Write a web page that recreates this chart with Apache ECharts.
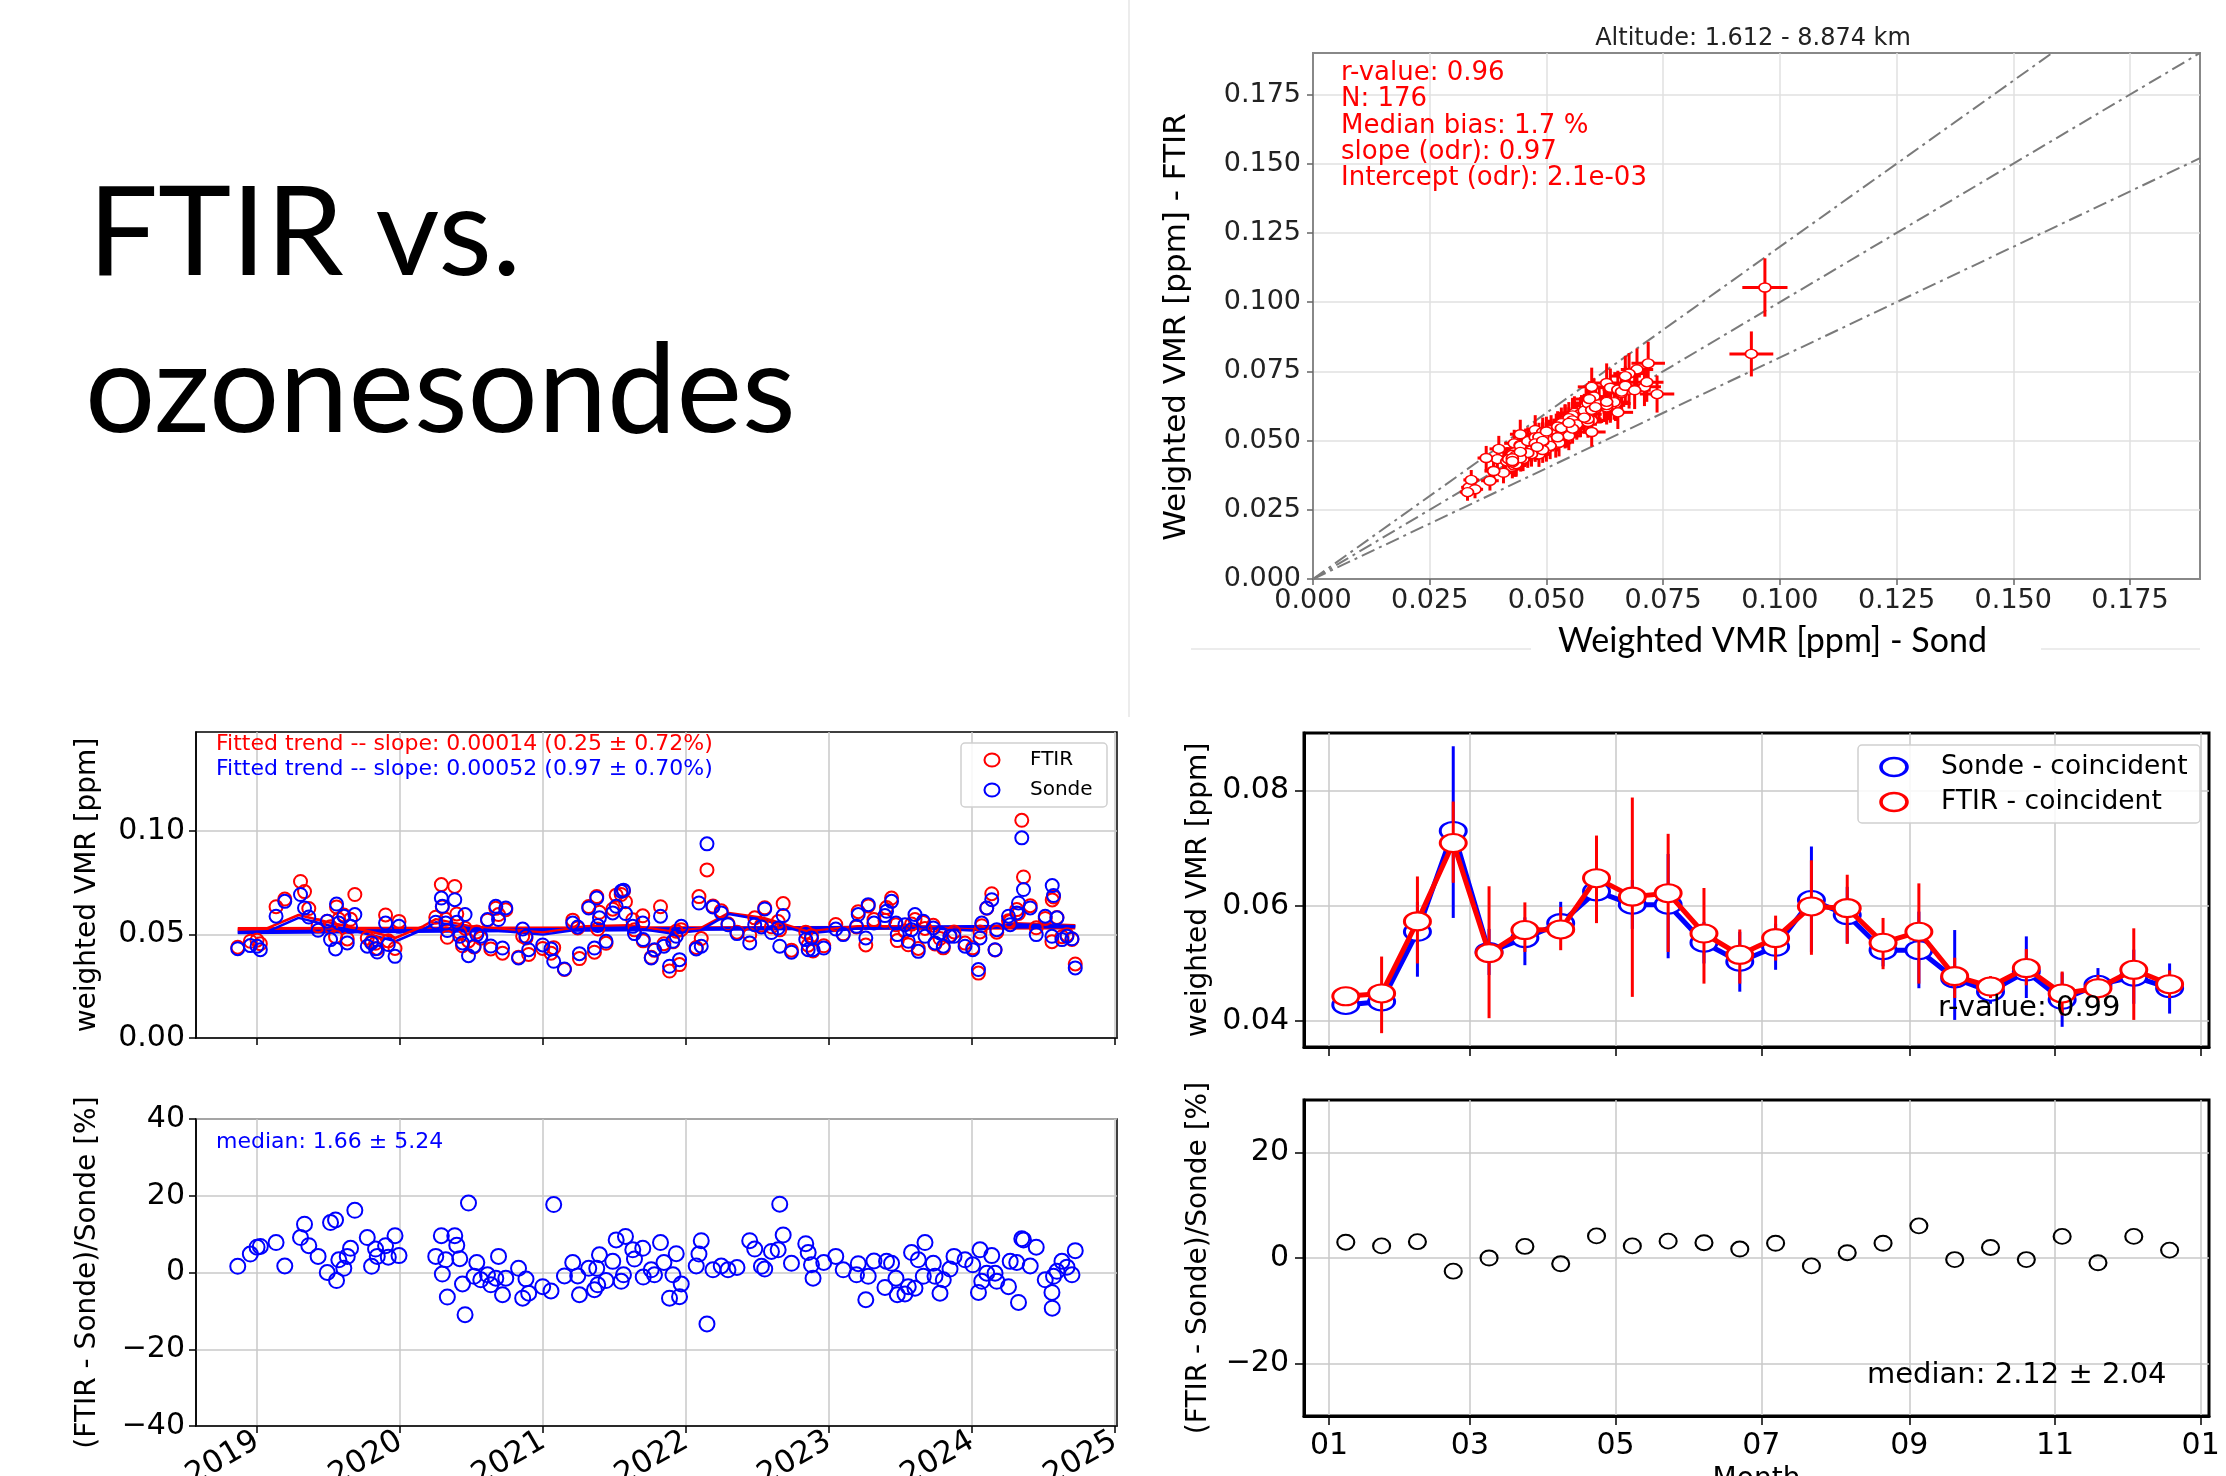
<!DOCTYPE html>
<html>
<head>
<meta charset="utf-8">
<title>FTIR vs. ozonesondes</title>
<script src="https://cdn.jsdelivr.net/npm/echarts@6/dist/echarts.min.js"></script>
<style>
  html, body { margin: 0; padding: 0; background: #fff; }
  #main { width: 2226px; height: 1476px; }
</style>
</head>
<body>
<div id="main"></div>
<script>
// FTIR vs ozonesondes - composite of 5 panels

// ---- time series (decimal year) ----
var obsYear = [2018.865, 2018.953, 2019.000, 2019.023, 2019.133, 2019.194, 2019.304, 2019.332, 2019.362, 2019.427,
  2019.491, 2019.514, 2019.549, 2019.556, 2019.572, 2019.607, 2019.631, 2019.654, 2019.684, 2019.771,
  2019.801, 2019.829, 2019.841, 2019.899, 2019.918, 2019.965, 2019.993, 2020.250, 2020.289, 2020.296,
  2020.320, 2020.331, 2020.383, 2020.397, 2020.418, 2020.437, 2020.455, 2020.479, 2020.518, 2020.537,
  2020.565, 2020.612, 2020.635, 2020.670, 2020.689, 2020.717, 2020.740, 2020.829, 2020.858, 2020.881,
  2020.900, 2020.998, 2021.056, 2021.075, 2021.150, 2021.208, 2021.243, 2021.255, 2021.320, 2021.360,
  2021.376, 2021.383, 2021.395, 2021.441, 2021.488, 2021.512, 2021.547, 2021.563, 2021.577, 2021.628,
  2021.640, 2021.698, 2021.701, 2021.757, 2021.780, 2021.822, 2021.846, 2021.885, 2021.909, 2021.932,
  2021.955, 2021.967, 2022.072, 2022.091, 2022.107, 2022.147, 2022.189, 2022.247, 2022.294, 2022.357,
  2022.446, 2022.481, 2022.528, 2022.551, 2022.598, 2022.645, 2022.656, 2022.680, 2022.738, 2022.838,
  2022.855, 2022.878, 2022.889, 2022.964, 2023.048, 2023.100, 2023.193, 2023.205, 2023.258, 2023.275,
  2023.315, 2023.392, 2023.403, 2023.438, 2023.469, 2023.478, 2023.532, 2023.555, 2023.578, 2023.602,
  2023.625, 2023.660, 2023.672, 2023.730, 2023.742, 2023.777, 2023.800, 2023.847, 2023.875, 2023.952,
  2024.006, 2024.046, 2024.057, 2024.069, 2024.104, 2024.139, 2024.162, 2024.174, 2024.256, 2024.268,
  2024.314, 2024.326, 2024.349, 2024.361, 2024.408, 2024.450, 2024.513, 2024.560, 2024.562, 2024.571,
  2024.595, 2024.630, 2024.665, 2024.700, 2024.723];

var sondeVmr = [0.0432, 0.0447, 0.0444, 0.0427, 0.0589, 0.0661, 0.0694, 0.0629, 0.0585, 0.0521,
  0.0565, 0.0476, 0.0431, 0.0648, 0.0556, 0.0589, 0.0460, 0.0540, 0.0597, 0.0444,
  0.0460, 0.0432, 0.0416, 0.0556, 0.0452, 0.0395, 0.0540, 0.0560, 0.0677, 0.0637,
  0.0556, 0.0520, 0.0669, 0.0560, 0.0492, 0.0460, 0.0597, 0.0398, 0.0444, 0.0500,
  0.0492, 0.0573, 0.0445, 0.0637, 0.0573, 0.0435, 0.0629, 0.0387, 0.0527, 0.0492,
  0.0427, 0.0450, 0.0431, 0.0371, 0.0334, 0.0556, 0.0537, 0.0408, 0.0629, 0.0435,
  0.0677, 0.0544, 0.0581, 0.0468, 0.0605, 0.0637, 0.0710, 0.0715, 0.0602, 0.0540,
  0.0505, 0.0556, 0.0476, 0.0387, 0.0427, 0.0589, 0.0444, 0.0347, 0.0468, 0.0492,
  0.0379, 0.0540, 0.0431, 0.0653, 0.0444, 0.0939, 0.0634, 0.0605, 0.0548, 0.0505,
  0.0460, 0.0548, 0.0537, 0.0624, 0.0510, 0.0532, 0.0444, 0.0592, 0.0415, 0.0476,
  0.0427, 0.0484, 0.0427, 0.0435, 0.0527, 0.0500, 0.0540, 0.0597, 0.0484, 0.0645,
  0.0556, 0.0592, 0.0613, 0.0661, 0.0556, 0.0500, 0.0548, 0.0468, 0.0524, 0.0597,
  0.0419, 0.0565, 0.0492, 0.0532, 0.0460, 0.0508, 0.0444, 0.0492, 0.0492, 0.0444,
  0.0427, 0.0331, 0.0484, 0.0556, 0.0629, 0.0669, 0.0427, 0.0524, 0.0589, 0.0548,
  0.0605, 0.0653, 0.0968, 0.0718, 0.0629, 0.0500, 0.0589, 0.0492, 0.0737, 0.0689,
  0.0581, 0.0476, 0.0492, 0.0480, 0.0339];

var ftirVmr = [0.0439, 0.0468, 0.0473, 0.0456, 0.0635, 0.0672, 0.0757, 0.0708, 0.0626, 0.0543,
  0.0565, 0.0538, 0.0490, 0.0634, 0.0574, 0.0595, 0.0479, 0.0574, 0.0694, 0.0484,
  0.0467, 0.0458, 0.0433, 0.0595, 0.0470, 0.0433, 0.0564, 0.0584, 0.0742, 0.0634,
  0.0574, 0.0487, 0.0733, 0.0600, 0.0510, 0.0446, 0.0531, 0.0470, 0.0440, 0.0513,
  0.0483, 0.0570, 0.0431, 0.0627, 0.0597, 0.0410, 0.0620, 0.0391, 0.0492, 0.0484,
  0.0404, 0.0433, 0.0410, 0.0437, 0.0331, 0.0570, 0.0532, 0.0384, 0.0636, 0.0415,
  0.0684, 0.0527, 0.0608, 0.0458, 0.0623, 0.0691, 0.0694, 0.0711, 0.0659, 0.0572,
  0.0523, 0.0591, 0.0470, 0.0390, 0.0424, 0.0635, 0.0456, 0.0324, 0.0465, 0.0516,
  0.0355, 0.0524, 0.0438, 0.0684, 0.0481, 0.0813, 0.0638, 0.0615, 0.0552, 0.0512,
  0.0498, 0.0581, 0.0546, 0.0630, 0.0538, 0.0563, 0.0523, 0.0650, 0.0425, 0.0512,
  0.0449, 0.0494, 0.0421, 0.0446, 0.0549, 0.0504, 0.0537, 0.0611, 0.0450, 0.0639,
  0.0573, 0.0569, 0.0631, 0.0677, 0.0548, 0.0471, 0.0517, 0.0451, 0.0551, 0.0573,
  0.0433, 0.0559, 0.0530, 0.0545, 0.0455, 0.0481, 0.0436, 0.0496, 0.0513, 0.0459,
  0.0436, 0.0314, 0.0513, 0.0543, 0.0628, 0.0698, 0.0426, 0.0512, 0.0567, 0.0564,
  0.0621, 0.0602, 0.1053, 0.0779, 0.0640, 0.0533, 0.0578, 0.0466, 0.0668, 0.0682,
  0.0583, 0.0490, 0.0499, 0.0477, 0.0358];

var relDiff = [1.6, 4.8, 6.6, 6.8, 7.8, 1.7, 9.1, 12.6, 7.0, 4.2,
  0.0, 13.0, 13.7, -2.1, 3.3, 1.1, 4.2, 6.3, 16.2, 9.1,
  1.6, 6.1, 4.2, 7.0, 4.0, 9.6, 4.4, 4.2, 9.6, -0.4,
  3.3, -6.4, 9.6, 7.1, 3.6, -3.0, -11.0, 18.1, -1.0, 2.6,
  -1.9, -0.6, -3.2, -1.5, 4.2, -5.8, -1.5, 1.1, -6.7, -1.7,
  -5.4, -3.7, -4.8, 17.7, -0.9, 2.6, -0.9, -5.8, 1.1, -4.5,
  1.1, -3.2, 4.6, -2.1, 2.9, 8.5, -2.3, -0.6, 9.4, 5.9,
  3.5, 6.3, -1.2, 0.7, -0.6, 7.8, 2.6, -6.7, -0.6, 4.9,
  -6.3, -3.0, 1.7, 4.8, 8.3, -13.4, 0.7, 1.7, 0.7, 1.3,
  8.3, 6.1, 1.6, 0.9, 5.5, 5.9, 17.8, 9.8, 2.4, 7.5,
  5.2, 2.0, -1.5, 2.6, 4.2, 0.7, -0.6, 2.3, -7.1, -1.0,
  3.0, -3.9, 2.9, 2.4, -1.5, -5.8, -5.6, -3.7, 5.2, -4.1,
  3.3, -1.0, 7.8, 2.4, -1.0, -5.4, -1.9, 0.9, 4.2, 3.3,
  2.0, -5.2, 5.9, -2.3, -0.2, 4.4, -0.2, -2.3, -3.7, 2.9,
  2.6, -7.8, 8.8, 8.5, 1.7, 6.6, -1.9, -5.2, -9.3, -1.0,
  0.3, 2.9, 1.4, -0.6, 5.7];

// linear trends and fitted (seasonal) curves
var trendYears = [2018.865, 2024.723];
var ftirTrendLine = [0.0527, 0.0535];
var sondeTrendLine = [0.0511, 0.0541];
var fitYears = [2018.865, 2019.06, 2019.29, 2019.50, 2019.70, 2019.97, 2020.16, 2020.25, 2020.50, 2020.75, 2021.00, 2021.30,
  2021.60, 2021.90, 2022.10, 2022.30, 2022.55, 2022.85, 2023.20, 2023.60, 2024.00, 2024.30, 2024.723];
var sondeFit = [0.0511, 0.0511, 0.0581, 0.0545, 0.0515, 0.0468, 0.0524, 0.0560, 0.0530, 0.0515, 0.0500, 0.0530,
  0.0535, 0.0505, 0.0520, 0.0600, 0.0570, 0.0505, 0.0530, 0.0535, 0.0520, 0.0550, 0.0540];
var ftirFit = [0.0525, 0.0528, 0.0595, 0.0560, 0.0530, 0.0485, 0.0540, 0.0575, 0.0540, 0.0525, 0.0510, 0.0540,
  0.0545, 0.0515, 0.0530, 0.0605, 0.0580, 0.0515, 0.0540, 0.0540, 0.0525, 0.0555, 0.0545];
var yearTicks = [2019, 2020, 2021, 2022, 2023, 2024, 2025];

// scatter: relative uncertainties and reference slopes
var sondeRelErr = 0.05;
var ftirRelErr = 0.10;
var refSlopes = [1.2, 1.0, 0.8];
var scatterTicks = [0, 0.025, 0.05, 0.075, 0.1, 0.125, 0.15, 0.175];

// ---- seasonal cycle (day of year, 15-day bins) ----
var monthDay = [7, 22, 37, 52, 67, 82, 97, 112, 127, 142, 157, 172, 187, 202, 217, 232, 247, 262, 277, 292, 307, 322, 337, 352];
var sondeMonthly = [0.0428, 0.0434, 0.0555, 0.0730, 0.0520, 0.0544, 0.0570, 0.0625, 0.0602, 0.0602, 0.0536, 0.0503,
  0.0529, 0.0610, 0.0584, 0.0523, 0.0523, 0.0474, 0.0451, 0.0486, 0.0437, 0.0463, 0.0477, 0.0457];
var ftirMonthly = [0.0443, 0.0448, 0.0573, 0.0709, 0.0518, 0.0558, 0.0559, 0.0648, 0.0616, 0.0622, 0.0552, 0.0515,
  0.0544, 0.0599, 0.0596, 0.0536, 0.0555, 0.0478, 0.0460, 0.0492, 0.0448, 0.0457, 0.0489, 0.0464];
var sondeLow = [0.0418, 0.0420, 0.0477, 0.0579, 0.0480, 0.0497, 0.0545, 0.0573, 0.0560, 0.0509, 0.0500, 0.0451,
  0.0489, 0.0520, 0.0535, 0.0495, 0.0457, 0.0402, 0.0430, 0.0440, 0.0390, 0.0440, 0.0430, 0.0413];
var sondeHigh = [0.0438, 0.0448, 0.0607, 0.0877, 0.0560, 0.0580, 0.0607, 0.0675, 0.0645, 0.0690, 0.0572, 0.0555,
  0.0569, 0.0703, 0.0633, 0.0551, 0.0590, 0.0558, 0.0472, 0.0547, 0.0484, 0.0492, 0.0524, 0.0500];
var ftirLow = [0.0430, 0.0379, 0.0500, 0.0640, 0.0405, 0.0520, 0.0523, 0.0570, 0.0442, 0.0520, 0.0465, 0.0465,
  0.0505, 0.0515, 0.0534, 0.0490, 0.0465, 0.0440, 0.0440, 0.0462, 0.0410, 0.0432, 0.0402, 0.0440];
var ftirHigh = [0.0455, 0.0512, 0.0651, 0.0781, 0.0634, 0.0606, 0.0598, 0.0722, 0.0788, 0.0725, 0.0631, 0.0559,
  0.0583, 0.0679, 0.0654, 0.0579, 0.0639, 0.0510, 0.0478, 0.0525, 0.0486, 0.0480, 0.0561, 0.0488];
var monthlyDiff = [3.0, 2.3, 3.1, -2.5, 0.0, 2.2, -1.1, 4.2, 2.3, 3.2, 2.9, 1.7,
  2.8, -1.5, 1.0, 2.8, 6.1, -0.3, 2.0, -0.3, 4.1, -0.9, 4.1, 1.5];
var monthTickDays = [0, 59, 120, 181, 243, 304, 365];
var monthTickLabels = ['01', '03', '05', '07', '09', '11', '01'];

var FONT = 'DejaVu Sans';
var RED = '#ff0000', BLUE = '#0000ff';

function merge(a, b) {
  for (var k in b) {
    if (b[k] && typeof b[k] === 'object' && !Array.isArray(b[k]) && a[k] && typeof a[k] === 'object') merge(a[k], b[k]);
    else a[k] = b[k];
  }
  return a;
}
function minus(v) { return String(v).replace('-', '\u2212'); }

function mplAxis(gridIndex, lw, extra) {
  return merge({
    type: 'value', gridIndex: gridIndex,
    axisLine: { show: true, onZero: false, lineStyle: { color: '#000', width: lw } },
    axisTick: { show: true, inside: false, length: 7, lineStyle: { color: '#000', width: 1.5 } },
    axisLabel: { color: '#000', fontFamily: FONT, fontSize: 30, margin: 11 },
    splitLine: { show: true, lineStyle: { color: '#c8c8c8', width: 1.5 } },
    nameLocation: 'middle',
    nameTextStyle: { color: '#000', fontFamily: FONT, fontSize: 28 }
  }, extra);
}

function crossItem(params, api) {
  var x = api.value(0), y = api.value(1), ex = api.value(2), ey = api.value(3);
  var l = api.coord([x - ex, y]), r = api.coord([x + ex, y]);
  var b = api.coord([x, y - ey]), t = api.coord([x, y + ey]);
  var st = { stroke: RED, lineWidth: 3 };
  return { type: 'group', children: [
    { type: 'line', shape: { x1: l[0], y1: l[1], x2: r[0], y2: r[1] }, style: st },
    { type: 'line', shape: { x1: b[0], y1: b[1], x2: t[0], y2: t[1] }, style: st }
  ] };
}
function vErr(color) {
  return function (params, api) {
    var lo = api.coord([api.value(0), api.value(1)]);
    var hi = api.coord([api.value(0), api.value(2)]);
    return { type: 'line', shape: { x1: lo[0], y1: lo[1], x2: hi[0], y2: hi[1] }, style: { stroke: color, lineWidth: 3 } };
  };
}

function txt(x, y, text, size, color, family, align) {
  return { type: 'text', x: x, y: y, silent: true, z: 100,
    style: { text: text, fill: color || '#000', fontSize: size, fontFamily: family || FONT,
      align: align || 'left', textAlign: align || 'left', verticalAlign: 'middle', textVerticalAlign: 'middle' } };
}
function mark(cx, cy, rx, ry, color, lw) {
  return { type: 'circle', x: cx, y: cy, scaleX: rx / ry, silent: true, z: 101,
    shape: { cx: 0, cy: 0, r: ry }, style: { fill: '#fff', stroke: color, lineWidth: lw, strokeNoScale: true } };
}
function box(x, y, w, h) {
  return { type: 'rect', silent: true, z: 99, shape: { x: x, y: y, width: w, height: h, r: 4 },
    style: { fill: 'rgba(255,255,255,0.85)', stroke: '#d0d0d0', lineWidth: 1.5 } };
}
function sep(x1, y1, x2, y2) {
  return { type: 'line', silent: true, z: 0, shape: { x1: x1, y1: y1, x2: x2, y2: y2 }, style: { stroke: '#e6e6e6', lineWidth: 1.5 } };
}
function panel(left, top, width, height, color, bw) {
  return { left: left, top: top, width: width, height: height, show: true, borderColor: color, borderWidth: bw,
    containLabel: false, outerBoundsMode: 'none' };
}

var chart = echarts.init(document.getElementById('main'));

var option = {
  animation: false,
  backgroundColor: '#fff',
  grid: [
    panel(1313, 53, 887, 526, '#888', 2),
    panel(196, 732, 921, 306, '#000', 1.5),
    panel(196, 1119, 921, 307, '#000', 1.5),
    panel(1304, 733, 905, 314, '#000', 3),
    panel(1304, 1100, 905, 316, '#000', 3)
  ],
  xAxis: [
    mplAxis(0, 2, {
      min: 0, max: 0.19,
      axisLine: { lineStyle: { color: '#888' } },
      axisTick: { customValues: scatterTicks, length: 6, lineStyle: { color: '#666' } },
      axisLabel: { customValues: scatterTicks, fontSize: 27, color: '#222', margin: 8,
        formatter: function (v) { return v.toFixed(3); } },
      splitLine: { lineStyle: { color: '#e0e0e0', width: 1.5 } },
      name: 'Weighted VMR [ppm] - Sond', nameGap: 45,
      nameTextStyle: { fontFamily: 'Lato', fontSize: 34, color: '#000', padding: [0, 0, 0, 32] }
    }),
    mplAxis(1, 1.5, {
      min: 2018.573, max: 2025.015,
      axisTick: { customValues: yearTicks },
      axisLabel: { show: false, customValues: yearTicks }
    }),
    mplAxis(2, 1.5, {
      min: 2018.573, max: 2025.015,
      axisTick: { customValues: yearTicks },
      axisLabel: { customValues: yearTicks, rotate: 30, fontSize: 31, margin: 13, formatter: function (v) { return String(v); } }
    }),
    mplAxis(3, 3, {
      min: -10.5, max: 368.5,
      axisTick: { customValues: monthTickDays, length: 9 },
      axisLabel: { show: false, customValues: monthTickDays }
    }),
    mplAxis(4, 3, {
      min: -10.5, max: 368.5,
      axisTick: { customValues: monthTickDays, length: 9 },
      axisLabel: { customValues: monthTickDays, fontSize: 30, margin: 15,
        formatter: function (v) { return monthTickLabels[monthTickDays.indexOf(Math.round(v))]; } },
      name: 'Month', nameGap: 50
    })
  ],
  yAxis: [
    mplAxis(0, 2, {
      min: 0, max: 0.19,
      axisLine: { lineStyle: { color: '#888' } },
      axisTick: { customValues: scatterTicks, length: 6, lineStyle: { color: '#666' } },
      axisLabel: { customValues: scatterTicks, fontSize: 27, color: '#222', margin: 12,
        formatter: function (v) { return v.toFixed(3); } },
      splitLine: { lineStyle: { color: '#e0e0e0', width: 1.5 } },
      name: 'Weighted VMR [ppm] - FTIR', nameGap: 121, nameRotate: 90,
      nameTextStyle: { fontSize: 31, padding: [0, 22, 0, 0] }
    }),
    mplAxis(1, 1.5, {
      min: 0, max: 0.148,
      axisTick: { customValues: [0, 0.05, 0.10] },
      axisLabel: { customValues: [0, 0.05, 0.10], formatter: function (v) { return v.toFixed(2); } },
      name: 'weighted VMR [ppm]', nameGap: 94, nameRotate: 90
    }),
    mplAxis(2, 1.5, {
      min: -40, max: 40,
      axisTick: { customValues: [-40, -20, 0, 20, 40] },
      axisLabel: { customValues: [-40, -20, 0, 20, 40], formatter: minus },
      name: '(FTIR - Sonde)/Sonde [%]', nameGap: 94, nameRotate: 90
    }),
    mplAxis(3, 3, {
      min: 0.0355, max: 0.090,
      axisTick: { customValues: [0.04, 0.06, 0.08], length: 9 },
      axisLabel: { customValues: [0.04, 0.06, 0.08], fontSize: 30, margin: 15, formatter: function (v) { return v.toFixed(2); } },
      name: 'weighted VMR [ppm]', nameGap: 91, nameRotate: 90
    }),
    mplAxis(4, 3, {
      min: -30, max: 30,
      axisTick: { customValues: [-20, 0, 20], length: 9 },
      axisLabel: { customValues: [-20, 0, 20], fontSize: 30, margin: 15, formatter: minus },
      name: '(FTIR - Sonde)/Sonde [%]', nameGap: 91, nameRotate: 90
    })
  ],
  series: [],
  graphic: []
};

var S = option.series;

// scatter panel: 1:1.2, 1:1, 1:0.8 reference lines
refSlopes.forEach(function (k) {
  S.push({ type: 'line', xAxisIndex: 0, yAxisIndex: 0, silent: true, symbol: 'none', z: 1,
    data: [[0, 0], [0.19, 0.19 * k]],
    lineStyle: { color: '#7a7a7a', width: 2, type: [14, 5, 3, 5] } });
});
S.push({ type: 'custom', name: 'error', xAxisIndex: 0, yAxisIndex: 0, z: 2, clip: true,
  renderItem: crossItem, encode: { x: 0, y: 1 },
  data: sondeVmr.map(function (s, i) { return [s, ftirVmr[i], s * sondeRelErr, ftirVmr[i] * ftirRelErr]; }) });
S.push({ type: 'scatter', name: 'FTIR vs Sonde', xAxisIndex: 0, yAxisIndex: 0, z: 3,
  symbol: 'circle', symbolSize: [12, 9],
  itemStyle: { color: '#fff', borderColor: RED, borderWidth: 1.6, opacity: 1 },
  data: sondeVmr.map(function (s, i) { return [s, ftirVmr[i]]; }) });

// time series: trends, fitted curves, observations
S.push({ type: 'line', xAxisIndex: 1, yAxisIndex: 1, symbol: 'none', silent: true, z: 2,
  data: trendYears.map(function (t, i) { return [t, ftirTrendLine[i]]; }), lineStyle: { color: RED, width: 4 } });
S.push({ type: 'line', xAxisIndex: 1, yAxisIndex: 1, symbol: 'none', silent: true, z: 2,
  data: trendYears.map(function (t, i) { return [t, sondeTrendLine[i]]; }), lineStyle: { color: BLUE, width: 4 } });
S.push({ type: 'line', xAxisIndex: 1, yAxisIndex: 1, symbol: 'none', silent: true, z: 2,
  data: fitYears.map(function (t, i) { return [t, ftirFit[i]]; }), lineStyle: { color: RED, width: 2.5 } });
S.push({ type: 'line', xAxisIndex: 1, yAxisIndex: 1, symbol: 'none', silent: true, z: 2,
  data: fitYears.map(function (t, i) { return [t, sondeFit[i]]; }), lineStyle: { color: BLUE, width: 2.5 } });
S.push({ type: 'scatter', name: 'FTIR', xAxisIndex: 1, yAxisIndex: 1, z: 3, symbol: 'circle', symbolSize: 13,
  itemStyle: { color: 'rgba(255,255,255,0)', borderColor: RED, borderWidth: 2, opacity: 1 },
  data: obsYear.map(function (t, i) { return [t, ftirVmr[i]]; }) });
S.push({ type: 'scatter', name: 'Sonde', xAxisIndex: 1, yAxisIndex: 1, z: 4, symbol: 'circle', symbolSize: 13,
  itemStyle: { color: 'rgba(255,255,255,0)', borderColor: BLUE, borderWidth: 2, opacity: 1 },
  data: obsYear.map(function (t, i) { return [t, sondeVmr[i]]; }) });
S.push({ type: 'scatter', name: 'relative difference', xAxisIndex: 2, yAxisIndex: 2, z: 3, symbol: 'circle', symbolSize: 15,
  itemStyle: { color: 'rgba(255,255,255,0)', borderColor: BLUE, borderWidth: 2, opacity: 1 },
  data: obsYear.map(function (t, i) { return [t, relDiff[i]]; }) });

// seasonal cycle
S.push({ type: 'custom', xAxisIndex: 3, yAxisIndex: 3, z: 2, clip: true, renderItem: vErr(BLUE), encode: { x: 0, y: [1, 2] },
  data: monthDay.map(function (d, i) { return [d, sondeLow[i], sondeHigh[i]]; }) });
S.push({ type: 'line', name: 'Sonde - coincident', xAxisIndex: 3, yAxisIndex: 3, z: 3,
  symbol: 'circle', symbolSize: [26, 18], showAllSymbol: true,
  itemStyle: { color: '#fff', borderColor: BLUE, borderWidth: 2.5 }, lineStyle: { color: BLUE, width: 5 },
  data: monthDay.map(function (d, i) { return [d, sondeMonthly[i]]; }) });
S.push({ type: 'custom', xAxisIndex: 3, yAxisIndex: 3, z: 4, clip: true, renderItem: vErr(RED), encode: { x: 0, y: [1, 2] },
  data: monthDay.map(function (d, i) { return [d, ftirLow[i], ftirHigh[i]]; }) });
S.push({ type: 'line', name: 'FTIR - coincident', xAxisIndex: 3, yAxisIndex: 3, z: 5,
  symbol: 'circle', symbolSize: [26, 18], showAllSymbol: true,
  itemStyle: { color: '#fff', borderColor: RED, borderWidth: 2.5 }, lineStyle: { color: RED, width: 5 },
  data: monthDay.map(function (d, i) { return [d, ftirMonthly[i]]; }) });
S.push({ type: 'scatter', name: 'monthly difference', xAxisIndex: 4, yAxisIndex: 4, z: 3,
  symbol: 'circle', symbolSize: [17, 15],
  itemStyle: { color: 'rgba(255,255,255,0)', borderColor: '#000', borderWidth: 2, opacity: 1 },
  data: monthDay.map(function (d, i) { return [d, monthlyDiff[i]]; }) });

// texts, legends, slide separators
option.graphic = [
  sep(1129, 0, 1129, 717),
  sep(1191, 649, 1531, 649),
  sep(2041, 649, 2200, 649),
  txt(88, 235, 'FTIR vs.', 124, '#000', 'Lato'),
  txt(85, 392, 'ozonesondes', 124, '#000', 'Lato'),

  txt(1753, 39, 'Altitude: 1.612 - 8.874 km', 24, '#222', FONT, 'center'),
  txt(1341, 73, 'r-value: 0.96', 26, RED),
  txt(1341, 99, 'N: 176', 26, RED),
  txt(1341, 126, 'Median bias: 1.7 %', 26, RED),
  txt(1341, 152, 'slope (odr): 0.97', 26, RED),
  txt(1341, 178, 'Intercept (odr): 2.1e-03', 26, RED),

  txt(216, 744, 'Fitted trend -- slope: 0.00014 (0.25 \u00b1 0.72%)', 22, RED),
  txt(216, 769, 'Fitted trend -- slope: 0.00052 (0.97 \u00b1 0.70%)', 22, BLUE),
  box(961, 743, 146, 64),
  mark(992, 760, 7.5, 6.5, RED, 1.8),
  mark(992, 790, 7.5, 6.5, BLUE, 1.8),
  txt(1030, 760, 'FTIR', 20, '#000'),
  txt(1030, 790, 'Sonde', 20, '#000'),
  txt(216, 1142, 'median: 1.66 \u00b1 5.24', 22, BLUE),

  box(1858, 745, 342, 78),
  mark(1894, 767, 13, 9, BLUE, 2.5),
  mark(1894, 802, 13, 9, RED, 2.5),
  txt(1941, 767, 'Sonde - coincident', 26.5, '#000'),
  txt(1941, 802, 'FTIR - coincident', 26.5, '#000'),
  txt(1938, 1008, 'r-value: 0.99', 29, '#000'),
  txt(1867, 1375, 'median: 2.12 \u00b1 2.04', 29, '#000')
];

chart.setOption(option);
</script>
</body>
</html>
